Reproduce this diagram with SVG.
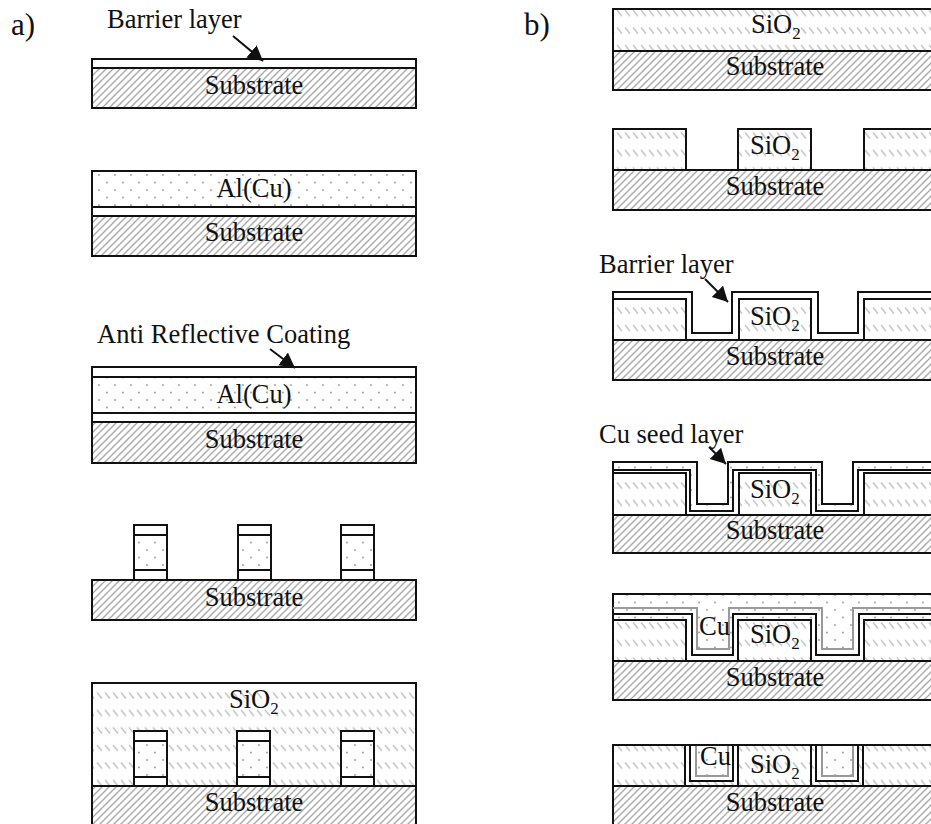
<svg xmlns="http://www.w3.org/2000/svg" width="931" height="824" viewBox="0 0 931 824">
<style>
text{font-family:"Liberation Serif","Times New Roman",serif;font-size:26.5px;fill:#111}
.m{text-anchor:middle}
.sub{font-size:17px}
.big{font-size:31px}
.o{fill:none;stroke:#111;stroke-width:2}
.w{fill:#fff;stroke:#111;stroke-width:2}
.s{fill:url(#hatch);stroke:#111;stroke-width:2}
.x{fill:url(#sio);stroke:#111;stroke-width:2}
.d{fill:url(#dots);stroke:#111;stroke-width:2}
.g{fill:none;stroke:#999;stroke-width:2}
.a{stroke:#111;stroke-width:2;marker-end:url(#arr)}
</style>
<defs>
<pattern id="hatch" width="7" height="7" patternUnits="userSpaceOnUse"><rect width="7" height="7" fill="#fff"/><path d="M-1,8L8,-1M-1,1L1,-1M6,8L8,6" stroke="#aaa" stroke-width="1.4"/></pattern>
<pattern id="sio" width="8" height="17.5" patternUnits="userSpaceOnUse"><rect width="8" height="17.5" fill="#fff"/><path d="M1,10L6,16" stroke="#c4c4c4" stroke-width="1.5"/></pattern>
<pattern id="dots" width="16" height="15" patternUnits="userSpaceOnUse"><rect width="16" height="15" fill="#fff"/><circle cx="3" cy="10" r="1.1" fill="#aaa"/><circle cx="11" cy="2.5" r="1.1" fill="#aaa"/></pattern>
<marker id="arr" markerUnits="userSpaceOnUse" markerWidth="18" markerHeight="18" refX="15" refY="8" orient="auto"><path d="M0,0L15,8L0,16Z" fill="#111"/></marker>
</defs>
<rect width="931" height="824" fill="#fff"/>
<g id="label-a"><text class="big" x="11" y="35">a)</text></g>
<g id="label-b"><text class="big" x="524" y="35">b)</text></g>

<g id="a1"><rect class="w" x="92" y="59" width="324" height="9"/><rect class="s" x="92" y="68" width="324" height="40"/>
<text class="m" x="254" y="94">Substrate</text><text x="107" y="28">Barrier layer</text></g>
<g id="a2"><rect class="d" x="92" y="171" width="324" height="36"/><rect class="w" x="92" y="207" width="324" height="9"/><rect class="s" x="92" y="216" width="324" height="40"/>
<text class="m" x="254" y="197">Al(Cu)</text><text class="m" x="254" y="241">Substrate</text></g>
<g id="a3"><rect class="w" x="92" y="367" width="324" height="10"/><rect class="d" x="92" y="377" width="324" height="36"/><rect class="w" x="92" y="413" width="324" height="9"/><rect class="s" x="92" y="422" width="324" height="41"/>
<text x="97" y="343">Anti Reflective Coating</text><text class="m" x="254" y="403">Al(Cu)</text><text class="m" x="254" y="448">Substrate</text></g>
<g id="a4"><rect class="s" x="92" y="580" width="324" height="40"/>
<rect class="w" x="134" y="525" width="33" height="10"/><rect class="d" x="134" y="535" width="33" height="35"/><rect class="w" x="134" y="570" width="33" height="10"/>
<rect class="w" x="238" y="525" width="33" height="10"/><rect class="d" x="238" y="535" width="33" height="35"/><rect class="w" x="238" y="570" width="33" height="10"/>
<rect class="w" x="341" y="525" width="33" height="10"/><rect class="d" x="341" y="535" width="33" height="35"/><rect class="w" x="341" y="570" width="33" height="10"/>
<text class="m" x="254" y="606">Substrate</text></g>
<g id="a5"><rect class="x" x="92" y="683" width="324" height="103"/><rect class="s" x="92" y="786" width="324" height="42"/>
<rect class="w" x="134" y="731" width="33" height="10"/><rect class="d" x="134" y="741" width="33" height="36"/><rect class="w" x="134" y="777" width="33" height="9"/>
<rect class="w" x="237" y="731" width="33" height="10"/><rect class="d" x="237" y="741" width="33" height="36"/><rect class="w" x="237" y="777" width="33" height="9"/>
<rect class="w" x="341" y="731" width="33" height="10"/><rect class="d" x="341" y="741" width="33" height="36"/><rect class="w" x="341" y="777" width="33" height="9"/>
<text class="m" x="254" y="811">Substrate</text><text x="229" y="708">SiO<tspan class="sub" dy="6">2</tspan></text></g>

<g id="b1"><rect class="x" x="613" y="9" width="330" height="42"/><rect class="s" x="613" y="51" width="330" height="39"/>
<text x="751" y="33">SiO<tspan class="sub" dy="6">2</tspan></text><text class="m" x="775" y="75">Substrate</text></g>
<g id="b2"><rect class="s" x="613" y="170" width="330" height="40"/><rect class="x" x="613" y="129" width="73" height="41"/><rect class="x" x="738" y="129" width="73" height="41"/><rect class="x" x="864" y="129" width="79" height="41"/>
<text x="750" y="154">SiO<tspan class="sub" dy="6">2</tspan></text><text class="m" x="775" y="195">Substrate</text></g>
<g id="b3"><rect class="s" x="613" y="340" width="330" height="40"/>
<path class="w" d="M613,340V292H692V333H732V292H818V333H858V292H943V340Z"/>
<rect class="x" x="613" y="299" width="73" height="41"/><rect class="x" x="739" y="299" width="72" height="41"/><rect class="x" x="864" y="299" width="79" height="41"/>
<text x="750" y="325">SiO<tspan class="sub" dy="6">2</tspan></text><text class="m" x="775" y="365">Substrate</text><text x="599" y="273">Barrier layer</text></g>
<g id="b4"><rect class="s" x="613" y="515" width="330" height="38"/>
<path class="d" d="M613,515V462H697V504H728V462H822V504H853V462H943V515Z"/>
<path class="w" d="M613,515V470H690V511H733V470H816V511H858V470H943V515Z"/>
<rect class="x" x="613" y="473" width="73" height="42"/><rect class="x" x="739" y="473" width="72" height="42"/><rect class="x" x="864" y="473" width="79" height="42"/>
<text x="750" y="498">SiO<tspan class="sub" dy="6">2</tspan></text><text class="m" x="775" y="539">Substrate</text><text x="599" y="443">Cu seed layer</text></g>
<g id="b5"><rect class="s" x="613" y="661" width="330" height="39"/>
<rect class="d" x="613" y="594" width="330" height="67"/>
<path class="w" d="M692,661V655H733V661ZM816,661V655H859V661Z"/>
<path class="g" d="M613,608H697V649H729V608H822V649H853V608H943"/>
<path class="o" d="M613,614H692V655H733V614H816V655H859V614H943"/>
<rect class="x" x="613" y="620" width="73" height="41"/><rect class="x" x="738" y="620" width="73" height="41"/><rect class="x" x="864" y="620" width="79" height="41"/>
<path d="M686,620H692V655H733V620H738V661H686Z" fill="#fff"/>
<path d="M811,620H816V655H859V620H864V661H811Z" fill="#fff"/>
<path class="o" d="M613,661H943M686,620V661M738,620V661M811,620V661M864,620V661M692,614V655H733V614M816,614V655H859V614"/>
<text x="699" y="635">Cu</text><text x="750" y="643">SiO<tspan class="sub" dy="6">2</tspan></text><text class="m" x="775" y="686">Substrate</text></g>
<g id="b6"><rect class="s" x="613" y="786" width="330" height="42"/>
<rect class="x" x="613" y="745" width="330" height="41"/>
<path class="w" d="M690,745V781H733V745M816,745V781H858V745"/>
<path d="M696,745V776H728V745ZM822,745V776H853V745Z" fill="url(#dots)" stroke="#999" stroke-width="2"/>
<path class="o" d="M685,745V786M738,745V786M811,745V786M863,745V786M613,745H943"/>
<text x="700" y="765">Cu</text><text x="750" y="773">SiO<tspan class="sub" dy="6">2</tspan></text><text class="m" x="775" y="811">Substrate</text></g>

<g id="connectors">
<line class="a" x1="233" y1="36" x2="263" y2="61"/>
<line class="a" x1="270" y1="349" x2="295" y2="368"/>
<line class="a" x1="705" y1="279" x2="728" y2="302"/>
<line class="a" x1="709" y1="447" x2="726" y2="464"/>
</g>
</svg>
